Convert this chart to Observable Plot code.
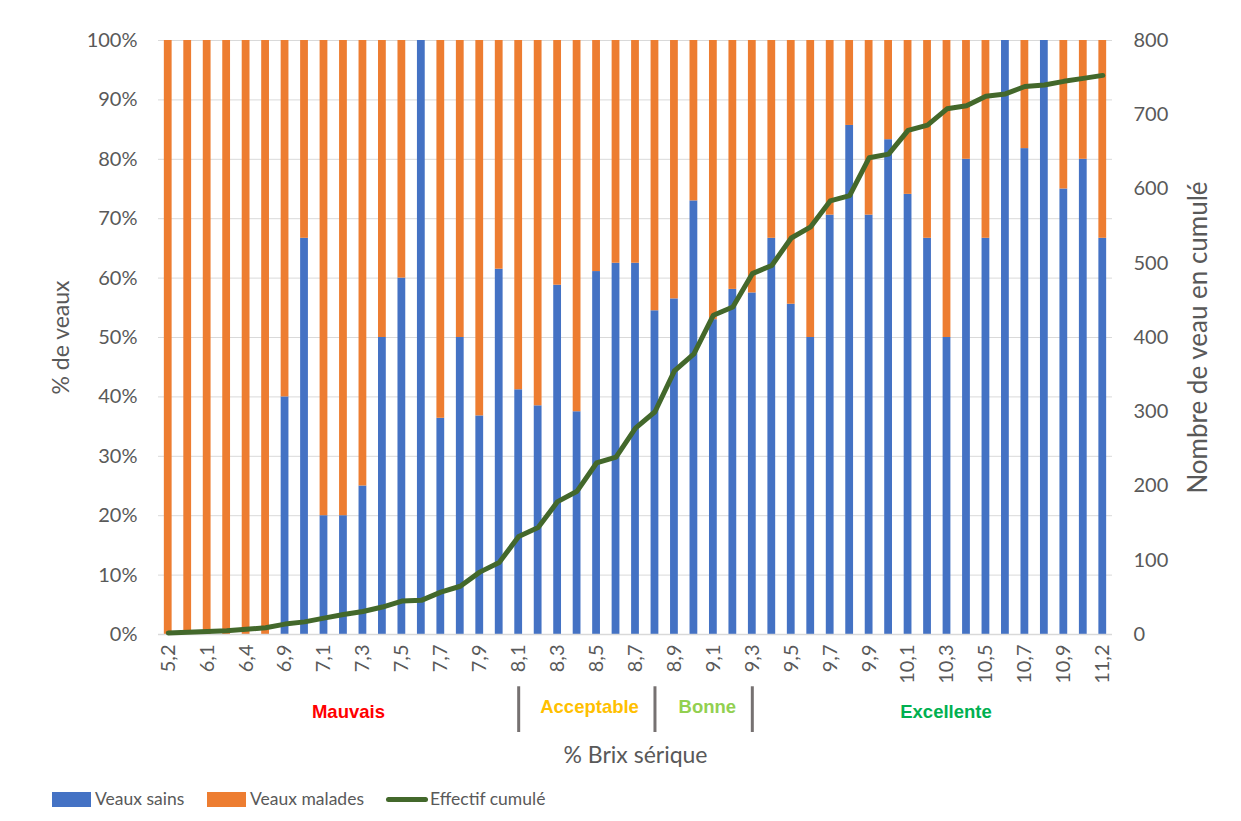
<!DOCTYPE html>
<html>
<head>
<meta charset="utf-8">
<script src="https://cdn.jsdelivr.net/npm/d3@7"></script>
<script src="https://cdn.jsdelivr.net/npm/@observablehq/plot@0.6"></script>
<style>
  html, body { margin: 0; padding: 0; background: #fff; }
  #wrap { position: relative; width: 1241px; height: 821px; overflow: hidden; font-family: Lato, "Open Sans", sans-serif; }
  #chart { position: absolute; left: 0; top: 0; }
  #chart svg g[aria-label="y-axis label"] text { font-size: 23px; }
  #chart svg g[aria-label="x-axis label"] text { font-size: 23px; }
  .leg { position: absolute; font-size: 17.5px; color: #595959; line-height: 20px; }
  .sw { position: absolute; }
</style>
</head>
<body>
<div id="wrap">
  <div id="chart"></div>
  <div id="legend"></div>
</div>
<script>
// ---- data ----
const categories = ["5,2","5,9","6,1","6,3","6,4","6,6","6,9","7,0","7,1","7,2","7,3","7,4","7,5","7,6","7,7","7,8","7,9","8,0","8,1","8,2","8,3","8,4","8,5","8,6","8,7","8,8","8,9","9,0","9,1","9,2","9,3","9,4","9,5","9,6","9,7","9,8","9,9","10,0","10,1","10,2","10,3","10,4","10,5","10,6","10,7","10,8","10,9","11,0","11,2"];
const pctSains = [0,0,0,0,0,0,40,66.7,20,20,25,50,60,100,36.4,50,36.8,61.5,41.2,38.5,58.8,37.5,61.1,62.5,62.5,54.5,56.5,73,53,58.1,57.5,66.7,55.6,50,70.6,85.7,70.6,83.3,74.1,66.7,50,80,66.7,100,81.8,100,75,80,66.7];
const effectifCumule = [2,3,4,5,7,9,14,17,22,27,31,37,45,46,57,65,84,97,132,144,179,193,231,239,278,300,355,378,430,441,486,497,534,549,584,591,642,647,679,686,708,712,725,728,738,740,745,749,753];
const tickLabels = categories.filter((c, i) => i % 2 === 0);
const leftTicks = [0,0.1,0.2,0.3,0.4,0.5,0.6,0.7,0.8,0.9,1];
const rightTicks = [0,100,200,300,400,500,600,700,800];
const zoneNames = ["Mauvais","Acceptable","Bonne","Excellente"];
const zoneCats = ["7,2","8,5","9,1","10,3"];
const zoneColors = ["#FF0000","#FFC000","#92D050","#00B050"];
const separatorCats = ["8,1","8,8","9,3"];
const seriesNames = ["Veaux sains","Veaux malades","Effectif cumulé"];
const seriesColors = ["#4472C4","#ED7D31","#43682B"];

// ---- build ----
const rightMax = 800;
const rows = categories.map((c, i) => ({cat: c, sains: pctSains[i] / 100, cum: effectifCumule[i]}));
const zones = zoneNames.map((n, i) => ({name: n, cat: zoneCats[i], color: zoneColors[i]}));
const zoneDx = [5, -7, -6, -1];
const zoneY = [-0.131, -0.123, -0.123, -0.130];

const chart = Plot.plot({
  width: 1241,
  height: 775,
  marginTop: 40,
  marginBottom: 141,
  marginLeft: 158,
  marginRight: 129,
  style: {fontFamily: "Lato, 'Open Sans', sans-serif", fontSize: "20px", color: "#595959", background: "#fff"},
  x: {type: "band", domain: categories, paddingInner: 0.6, paddingOuter: 0.3, round: false},
  y: {domain: [0, 1]},
  marks: [
    Plot.ruleY(leftTicks.slice(1), {stroke: "#d9d9d9", strokeWidth: 1}),
    Plot.barY(rows, {x: "cat", y1: 0, y2: "sains", fill: seriesColors[0]}),
    Plot.barY(rows, {x: "cat", y1: "sains", y2: 1, fill: seriesColors[1]}),
    Plot.ruleY([0], {stroke: "#d9d9d9", strokeWidth: 1.5}),
    Plot.line(rows, {x: "cat", y: d => d.cum / rightMax, stroke: seriesColors[2], strokeWidth: 5, strokeLinejoin: "round", strokeLinecap: "round"}),
    Plot.axisY({anchor: "left", ticks: leftTicks, tickFormat: d3.format(".0%"), tickSize: 0, tickPadding: 21,
      label: "% de veaux", labelAnchor: "center", labelArrow: "none", labelOffset: 106}),
    Plot.axisY({anchor: "right", ticks: rightTicks.map(v => v / rightMax), tickFormat: d => String(Math.round(d * rightMax)), tickSize: 0, tickPadding: 21,
      label: "Nombre de veau en cumulé", labelAnchor: "center", labelArrow: "none", labelOffset: 94}),
    Plot.axisX({ticks: tickLabels, tickRotate: -90, tickSize: 0, tickPadding: 10,
      label: "% Brix sérique", labelAnchor: "center", labelArrow: "none", labelOffset: 128}),
    Plot.ruleX(separatorCats, {x: d => d, y1: -0.088, y2: -0.165, stroke: "#767171", strokeWidth: 3}),
    Plot.text(zones, {x: "cat", y: (d, i) => zoneY[i], text: "name", fill: "color",
      fontWeight: "bold", fontSize: 18.5, fontFamily: "'Liberation Sans', Arial, sans-serif"})
  ]
});
document.getElementById("chart").appendChild(chart);
// right-axis title a bit larger, as in the reference
chart.querySelectorAll('g[aria-label="y-axis label"]').forEach((g, i) => {
  if (i === 1) g.querySelectorAll("text").forEach(t => t.style.fontSize = "26px");
});
// per-zone horizontal nudges
chart.querySelectorAll('g[aria-label="text"] text').forEach((t, i) => {
  if (t.hasAttribute("x")) t.setAttribute("x", parseFloat(t.getAttribute("x")) + zoneDx[i]);
  else t.setAttribute("dx", zoneDx[i]);
});

// ---- legend ----
const legend = document.getElementById("legend");
const legPos = [52, 207, 386];
const legTextPos = [95, 250, 430];
seriesNames.forEach((name, i) => {
  const sw = document.createElement("div");
  sw.className = "sw";
  if (i < 2) {
    Object.assign(sw.style, {left: legPos[i] + "px", top: "792px", width: "39px", height: "15px", background: seriesColors[i]});
  } else {
    Object.assign(sw.style, {left: legPos[i] + "px", top: "797px", width: "42px", height: "5px", background: seriesColors[i], borderRadius: "3px"});
  }
  legend.appendChild(sw);
  const t = document.createElement("div");
  t.className = "leg";
  t.textContent = name;
  Object.assign(t.style, {left: legTextPos[i] + "px", top: "789px"});
  legend.appendChild(t);
});
</script>
</body>
</html>
